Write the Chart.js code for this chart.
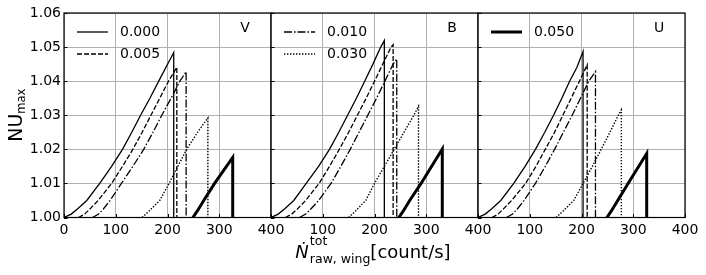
<!DOCTYPE html>
<html><head><meta charset="utf-8">
<script src="https://cdn.jsdelivr.net/npm/chart.js@4"></script>
<style>
html,body{margin:0;padding:0;background:#fff}
#wrap{position:relative;width:706px;height:275px}
#wrap canvas{position:absolute;left:0;top:0}
</style></head><body>
<div id="wrap">
<canvas id="cV" width="706" height="275"></canvas>
<canvas id="cB" width="706" height="275"></canvas>
<canvas id="cU" width="706" height="275"></canvas>
</div>
<script>
'use strict';
// [count/s, NU_max] pairs, one array per band & parameter
const V_000 = [[0,1.000],[14,1.001],[26,1.0025],[44,1.005],[69,1.010],[92,1.015],[113,1.020],[131,1.025],[148,1.030],[166,1.035],[183,1.040],[212,1.0484],[212,1.000]];
const V_005 = [[28,1.000],[40,1.001],[50,1.0025],[66,1.005],[92,1.010],[113,1.015],[133,1.020],[151,1.025],[168,1.030],[185,1.035],[202,1.040],[218,1.0441],[218,1.000]];
const V_010 = [[55,1.000],[67,1.001],[76,1.0025],[89,1.005],[111,1.010],[133,1.015],[154,1.020],[172,1.025],[189,1.030],[207,1.035],[224,1.040],[236,1.0428],[236,1.000]];
const V_030 = [[151,1.000],[165,1.002],[185,1.005],[203,1.010],[220,1.015],[237,1.020],[258,1.025],[278,1.0292],[278,1.000]];
const V_050 = [[249,1.000],[258,1.002],[270,1.005],[291,1.010],[326,1.0176],[326,1.000]];

const B_000 = [[0,1.000],[14,1.001],[26,1.0025],[44,1.005],[68,1.010],[92,1.015],[113,1.020],[131,1.025],[148,1.030],[165,1.035],[181,1.040],[197,1.045],[212,1.050],[219,1.0519],[219,1.000]];
const B_005 = [[28,1.000],[40,1.001],[51,1.0025],[67,1.005],[93,1.010],[113,1.015],[132,1.020],[150,1.025],[167,1.030],[184,1.035],[200,1.040],[216,1.045],[232,1.050],[236,1.0507],[236,1.000]];
const B_010 = [[55,1.000],[67,1.001],[77,1.0025],[92,1.005],[116,1.010],[135,1.015],[153,1.020],[170,1.025],[187,1.030],[204,1.035],[220,1.040],[236,1.045],[243,1.0465],[243,1.000]];
const B_030 = [[150,1.000],[164,1.002],[183,1.005],[200,1.010],[219,1.015],[238,1.020],[257,1.025],[276,1.030],[285,1.0326],[285,1.000]];
const B_050 = [[247,1.000],[256,1.002],[268,1.005],[290,1.010],[331,1.0201],[331,1.000]];

const U_000 = [[0,1.000],[14,1.001],[26,1.0025],[44,1.005],[69,1.010],[91,1.015],[111,1.020],[129,1.025],[146,1.030],[162,1.035],[177,1.040],[191,1.044],[203,1.0487],[203,1.000]];
const U_005 = [[27,1.000],[39,1.001],[49,1.0025],[65,1.005],[92,1.010],[112,1.015],[130,1.020],[148,1.025],[164,1.030],[180,1.035],[196,1.040],[211,1.0448],[211,1.000]];
const U_010 = [[55,1.000],[67,1.001],[76,1.0025],[89,1.005],[111,1.010],[130,1.015],[148,1.020],[165,1.025],[182,1.030],[198,1.035],[214,1.040],[227,1.0428],[227,1.000]];
const U_030 = [[151,1.000],[165,1.002],[185,1.005],[203,1.010],[221,1.015],[238,1.020],[255,1.025],[271,1.030],[277,1.0316],[277,1.000]];
const U_050 = [[249,1.000],[258,1.002],[270,1.005],[290,1.010],[326,1.0188],[326,1.000]];

const SERIES = ['0.000', '0.005', '0.010', '0.030', '0.050'];
const X_TICKS = [0, 100, 200, 300, 400];
const Y_TICKS = [1.00, 1.01, 1.02, 1.03, 1.04, 1.05, 1.06];

const DASH  = [[], [5, 2], [8, 2, 1.5, 2], [1.4, 1.6], []];
const WIDTH = [1.3, 1.3, 1.3, 1.4, 3];
const FONT = '"DejaVu Sans", sans-serif';
const TOP = 13, BOTTOM = 217.5;

const PANELS = [
  { id: 'cV', tag: 'V', data: [V_000, V_005, V_010, V_030, V_050], legend: [0, 1], left: 64,  right: 271 },
  { id: 'cB', tag: 'B', data: [B_000, B_005, B_010, B_030, B_050], legend: [2, 3], left: 271, right: 478 },
  { id: 'cU', tag: 'U', data: [U_000, U_005, U_010, U_030, U_050], legend: [4],    left: 478, right: 685 },
];

Chart.defaults.font.family = FONT;
Chart.defaults.font.size = 14;
Chart.defaults.color = '#000';

// ─── frame, inward ticks, panel tag, legend ───────────────────────────────────
const panelDeco = p => ({
  id: 'deco' + p.tag,
  afterDatasetsDraw(chart) {
    const { ctx, chartArea: a, scales: { x, y } } = chart;
    ctx.save();
    ctx.strokeStyle = '#000';
    ctx.lineWidth = 1;
    ctx.beginPath();
    Y_TICKS.forEach(v => { const py = Math.round(y.getPixelForValue(v)) + .5; ctx.moveTo(a.left, py); ctx.lineTo(a.left + 3.5, py); });
    X_TICKS.forEach(v => { const px = Math.round(x.getPixelForValue(v)) + .5; ctx.moveTo(px, a.bottom); ctx.lineTo(px, a.bottom - 3.5); });
    ctx.stroke();
    ctx.lineWidth = 1.2;
    ctx.strokeRect(a.left, a.top, a.right - a.left, a.bottom - a.top);

    ctx.fillStyle = '#000';
    ctx.font = '14px ' + FONT;
    ctx.textAlign = 'center';
    ctx.textBaseline = 'middle';
    ctx.fillText(p.tag, a.right - 26, a.top + 15.5);

    ctx.textAlign = 'left';
    p.legend.forEach((si, r) => {
      const ly = a.top + 19 + r * 22;
      ctx.beginPath();
      ctx.lineWidth = WIDTH[si];
      ctx.setLineDash(DASH[si]);
      ctx.moveTo(a.left + 13, ly); ctx.lineTo(a.left + 44, ly);
      ctx.stroke();
      ctx.setLineDash([]);
      ctx.fillText(SERIES[si], a.left + 56, ly);
    });
    ctx.restore();
  }
});

// ─── axis titles (drawn once, on the first panel) ─────────────────────────────
const titles = {
  id: 'titles',
  afterDraw(chart) {
    const ctx = chart.ctx;
    ctx.save();
    ctx.fillStyle = '#000';
    ctx.textAlign = 'left';
    ctx.textBaseline = 'alphabetic';

    // y: NU_max
    ctx.translate(22, (TOP + BOTTOM) / 2);
    ctx.rotate(-Math.PI / 2);
    ctx.font = '19px ' + FONT;
    const w1 = ctx.measureText('NU').width;
    ctx.font = '11.5px ' + FONT;
    const w2 = ctx.measureText('max').width;
    let x = -(w1 + w2) / 2;
    ctx.font = '19px ' + FONT;
    ctx.fillText('NU', x, 0);
    ctx.font = '11.5px ' + FONT;
    ctx.fillText('max', x + w1, 2.5);
    ctx.setTransform(1, 0, 0, 1, 0, 0);

    // x: Ṅ^tot_raw,wing [count/s]
    ctx.font = 'italic 18px ' + FONT;
    const wN = ctx.measureText('Ṅ').width;
    ctx.font = '12.5px ' + FONT;
    const wSup = ctx.measureText('tot').width, wSub = ctx.measureText('raw, wing').width;
    ctx.font = '18px ' + FONT;
    const wU = ctx.measureText('[count/s]').width;
    const tot = wN + 1 + Math.max(wSup, wSub) + wU;
    x = 373 - tot / 2;
    ctx.font = 'italic 18px ' + FONT;
    ctx.fillText('Ṅ', x, 258);
    ctx.font = '12.5px ' + FONT;
    ctx.fillText('tot', x + wN + 1, 245);
    ctx.fillText('raw, wing', x + wN + 1, 262.5);
    ctx.font = '18px ' + FONT;
    ctx.fillText('[count/s]', x + wN + 1 + Math.max(wSup, wSub), 258);
    ctx.restore();
  }
};

const makePanel = (p, i) => new Chart(document.getElementById(p.id), {
  type: 'scatter',
  data: {
    datasets: SERIES.map((s, k) => ({
      label: s, data: p.data[k], showLine: true,
      borderColor: '#000', borderWidth: WIDTH[k], borderDash: DASH[k],
      pointRadius: 0, tension: 0, fill: false
    }))
  },
  options: {
    responsive: false, animation: false, events: [],
    layout: { padding: { left: i ? p.left : 0, right: 706 - p.right, top: TOP, bottom: 0 } },
    scales: {
      x: {
        type: 'linear', min: 0, max: 400,
        afterBuildTicks: s => { s.ticks = X_TICKS.map(v => ({ value: v })); },
        afterFit: s => { s.height = 275 - BOTTOM; },
        ticks: { padding: 4, maxRotation: 0, autoSkip: false, callback: v => (v === 0 && i) ? '' : String(v) },
        grid: { color: '#b0b0b0', lineWidth: 1, drawTicks: false },
        border: { display: false }
      },
      y: {
        min: 1.0, max: 1.06,
        afterBuildTicks: s => { s.ticks = Y_TICKS.map(v => ({ value: v })); },
        afterFit: s => { s.width = i ? 0 : p.left; },
        ticks: { display: i === 0, padding: 3, callback: v => v.toFixed(2) },
        grid: { color: '#b0b0b0', lineWidth: 1, drawTicks: false },
        border: { display: false }
      }
    },
    plugins: { legend: { display: false }, tooltip: { enabled: false } }
  },
  plugins: i ? [panelDeco(p)] : [panelDeco(p), titles]
});

PANELS.forEach(makePanel);
</script>
</body></html>
